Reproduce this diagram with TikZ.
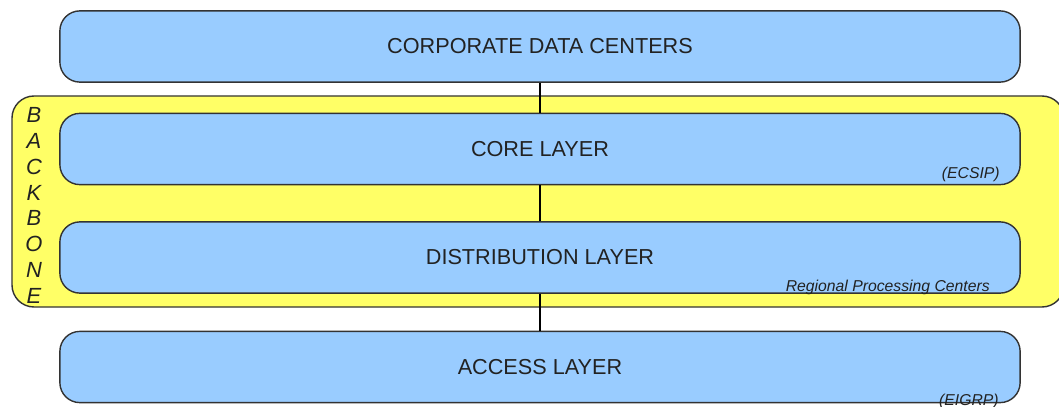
\documentclass[tikz,border=0pt]{standalone}
\usepackage{fontspec}
\setmainfont{Liberation Sans}
\usetikzlibrary{calc}

\definecolor{layerblue}{HTML}{99CCFF}
\definecolor{bbyellow}{HTML}{FFFF66}
\definecolor{edgegray}{HTML}{333333}
\definecolor{inkgray}{HTML}{222222}

\begin{document}
\begin{tikzpicture}[x=0.025cm,y=-0.025cm,
  layerbox/.style={draw=edgegray,line width=1pt,fill=layerblue,rounded corners=0.5cm,
    minimum width=24cm,minimum height=1.78cm,text=inkgray,font=\fontsize{15.4}{18}\selectfont},
  bbframe/.style={draw=edgegray,line width=1pt,fill=bbyellow,rounded corners=0.55cm},
  tag/.style={text=inkgray,font=\fontsize{11.2}{13}\selectfont\itshape,inner sep=0pt},
  link/.style={draw=black,line width=1pt}]
\useasboundingbox (0,0) rectangle (1059,407);
\clip (0,0) rectangle (1059,407);
% backbone frame
\draw[bbframe] (12,96) rectangle (1064,307);
\node at (34,205.5) [text=inkgray,align=center,font=\fontsize{15.6}{18.3}\selectfont\itshape] (backbone)
  {B\\A\\C\\K\\B\\O\\N\\E};
% layers
\node[layerbox] (corp) at (540,46.5) {CORPORATE DATA CENTERS};
\node[layerbox] (core) at (540,149) {CORE LAYER};
\node[layerbox] (dist) at (540,257.5) {DISTRIBUTION LAYER};
\node[layerbox] (access) at (540,367) {ACCESS LAYER};
% links
\draw[link] (corp) -- (core);
\draw[link] (core) -- (dist);
\draw[link] (dist) -- (access);
% small labels
\node[tag] at (1000,174) [anchor=east] (coretag) {(ECSIP)};
\node[tag] at (990,287) [anchor=east] (disttag) {Regional Processing Centers};
\node[tag] at (999,401) [anchor=east] (accesstag) {(EIGRP)};
\end{tikzpicture}
\end{document}
